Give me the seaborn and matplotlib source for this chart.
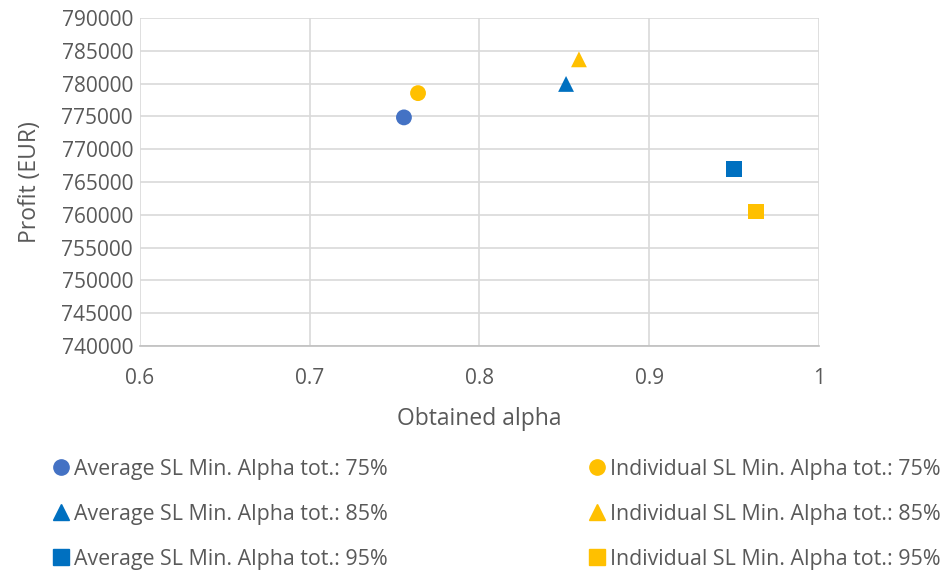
import matplotlib
matplotlib.use("Agg")
import matplotlib.pyplot as plt
import seaborn as sns
import pandas as pd

# Series labels, obtained alpha and profit for each policy
series = [
    "Average SL Min. Alpha tot.: 75%",
    "Average SL Min. Alpha tot.: 85%",
    "Average SL Min. Alpha tot.: 95%",
    "Individual SL Min. Alpha tot.: 75%",
    "Individual SL Min. Alpha tot.: 85%",
    "Individual SL Min. Alpha tot.: 95%",
]
alpha = [0.7555, 0.851, 0.950, 0.7638, 0.8586, 0.963]
profit = [774850, 779950, 766950, 778550, 783700, 760500]

colors = ["#4472C4", "#0070C0", "#0070C0", "#FFC000", "#FFC000", "#FFC000"]
markers = ["o", "^", "s", "o", "^", "s"]

x_ticks = [0.6, 0.7, 0.8, 0.9, 1.0]
x_tick_labels = ["0.6", "0.7", "0.8", "0.9", "1"]
y_ticks = list(range(740000, 790001, 5000))

df = pd.DataFrame({"series": series, "alpha": alpha, "profit": profit})

sns.set_style("white")
plt.rcParams["font.family"] = ["Open Sans", "DejaVu Sans"]
text_color = "#595959"

fig = plt.figure(figsize=(9.42, 5.72), dpi=100)
ax = fig.add_axes([0.1486, 0.3951, 0.7208, 0.5734])

sns.scatterplot(
    data=df, x="alpha", y="profit", hue="series", style="series",
    palette=dict(zip(series, colors)), markers=dict(zip(series, markers)),
    s=130, edgecolor="none", linewidth=0, ax=ax, legend=False, zorder=3,
)

ax.set_xlim(0.6, 1.0)
ax.set_ylim(740000, 790000)
ax.set_xticks(x_ticks)
ax.set_xticklabels(x_tick_labels)
ax.set_yticks(y_ticks)
ax.set_yticklabels([str(v) for v in y_ticks])
ax.grid(True, color="#D9D9D9", linewidth=1.2)
ax.set_axisbelow(True)
for name, sp in ax.spines.items():
    sp.set_visible(name == "bottom")
ax.spines["bottom"].set_color("#BFBFBF")
ax.spines["bottom"].set_linewidth(1.2)
ax.tick_params(axis="both", length=0, labelsize=15, colors=text_color)
ax.tick_params(axis="x", pad=16)
ax.tick_params(axis="y", pad=5)
ax.set_xlabel("Obtained alpha", fontsize=16.5, color=text_color, labelpad=13)
ax.set_ylabel("Profit (EUR)", fontsize=16.5, color=text_color, labelpad=14)

handles = [
    plt.Line2D([], [], linestyle="none", marker=m, color=c, markersize=11)
    for m, c in zip(markers, colors)
]
fig.legend(
    handles, series, loc="upper left", bbox_to_anchor=(0.044, 0.213),
    ncol=2, frameon=False, fontsize=15.4, labelcolor=text_color,
    handletextpad=0.1, handlelength=1.0, columnspacing=9.3,
    labelspacing=1.12, borderaxespad=0,
)

fig.savefig("out.png", dpi=100)
